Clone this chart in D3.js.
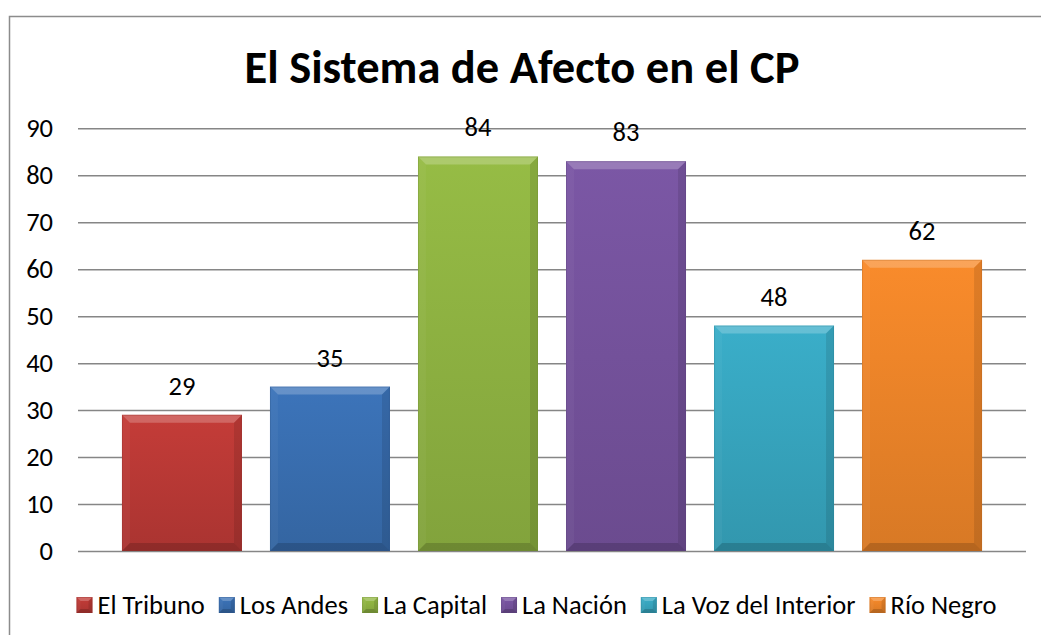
<!DOCTYPE html>
<html>
<head>
<meta charset="utf-8">
<script src="https://cdn.jsdelivr.net/npm/d3@7/dist/d3.min.js"></script>
<style>
  html, body { margin: 0; padding: 0; background: #fff; }
  svg { display: block; }
  text { font-family: Carlito, Calibri, Lato, sans-serif; fill: #000; }
</style>
</head>
<body>
<svg id="chart" width="1041" height="635"></svg>
<script>
const title = "El Sistema de Afecto en el CP";
const categories = ["El Tribuno", "Los Andes", "La Capital", "La Nación", "La Voz del Interior", "Río Negro"];
const values = [29, 35, 84, 83, 48, 62];
const colors = ["#C43C38", "#3C74BA", "#96BC45", "#7B57A5", "#3AAEC9", "#F98B2B"];
const yTicks = [0, 10, 20, 30, 40, 50, 60, 70, 80, 90];

const svg = d3.select("#chart");
const defs = svg.append("defs");

// frame
svg.append("rect").attr("x", 9.5).attr("y", 16.5).attr("width", 1100).attr("height", 700)
  .attr("fill", "#fff").attr("stroke", "#8c8c8c").attr("stroke-width", 1.5);

const plotLeft = 78, plotRight = 1026;
const y = d3.scaleLinear().domain([0, 90]).range([551, 128.3]);
const x = d3.scaleBand().domain(categories).range([plotLeft, plotRight])
  .paddingInner(28 / 148).paddingOuter(0.297);

// title
svg.append("text").attr("x", 522).attr("y", 83).attr("text-anchor", "middle")
  .style("font-weight", "bold").style("font-size", "46.5px").text(title);

// grid
const yAxis = d3.axisLeft(y).tickValues(yTicks).tickSize(-(plotRight - plotLeft)).tickPadding(25);
const gAxis = svg.append("g").attr("transform", `translate(${plotLeft},0)`).call(yAxis);
gAxis.select(".domain").remove();
gAxis.selectAll(".tick line").attr("stroke", "#868686").attr("stroke-width", 1.5);
gAxis.selectAll(".tick text").style("font-size", "26.5px").attr("fill", "#000")
  .attr("font-family", null);

// gradients
function shade(c, k) { return d3.color(c).darker(k).formatHex(); }
colors.forEach((c, i) => {
  const g = defs.append("linearGradient").attr("id", "grad" + i)
    .attr("x1", 0).attr("y1", 0).attr("x2", 0).attr("y2", 1);
  g.append("stop").attr("offset", "0%").attr("stop-color", c);
  g.append("stop").attr("offset", "100%").attr("stop-color", shade(c, 0.4));
});

function bevel(g, x0, y0, w, h, b, color, gradId) {
  const x1 = x0 + w, y1 = y0 + h;
  g.append("rect").attr("x", x0).attr("y", y0).attr("width", w).attr("height", h)
    .attr("fill", `url(#${gradId})`);
  const poly = (pts, fill, op) => g.append("polygon")
    .attr("points", pts.map(p => p.join(",")).join(" ")).attr("fill", fill).attr("fill-opacity", op);
  poly([[x0, y0], [x1, y0], [x1 - b, y0 + b], [x0 + b, y0 + b]], "#ffffff", 0.22);
  poly([[x0, y0], [x0 + b, y0 + b], [x0 + b, y1 - b], [x0, y1]], "#ffffff", 0.04);
  poly([[x1, y0], [x1, y1], [x1 - b, y1 - b], [x1 - b, y0 + b]], "#000000", 0.10);
  poly([[x0, y1], [x0 + b, y1 - b], [x1 - b, y1 - b], [x1, y1]], "#000000", 0.16);
  g.append("rect").attr("x", x0 + 0.5).attr("y", y0 + 0.5).attr("width", w - 1).attr("height", h - 1)
    .attr("fill", "none").attr("stroke", shade(color, 0.8)).attr("stroke-opacity", 0.35);
}

// bars
const bars = svg.append("g");
categories.forEach((cat, i) => {
  const g = bars.append("g");
  const x0 = x(cat), w = x.bandwidth();
  const y0 = y(values[i]), h = y(0) - y(values[i]);
  bevel(g, x0, y0, w, h, 8, colors[i], "grad" + i);
  svg.append("text").attr("x", x0 + w / 2).attr("y", y0 - 20).attr("text-anchor", "middle")
    .style("font-size", "26.5px").text(values[i]);
});

// legend
const leg = svg.append("g");
let cx = 0;
categories.forEach((cat, i) => {
  const g = leg.append("g").attr("transform", `translate(${cx},0)`);
  bevel(g, 0, -8, 16, 16, 4, colors[i], "grad" + i);
  const t = g.append("text").attr("x", 21).attr("y", 9).style("font-size", "26.5px").text(cat);
  const tw = t.node().getComputedTextLength();
  cx += 21 + tw + 14;
});
const totalW = cx - 14;
leg.attr("transform", `translate(${536.5 - totalW / 2},605)`);
</script>
</body>
</html>
